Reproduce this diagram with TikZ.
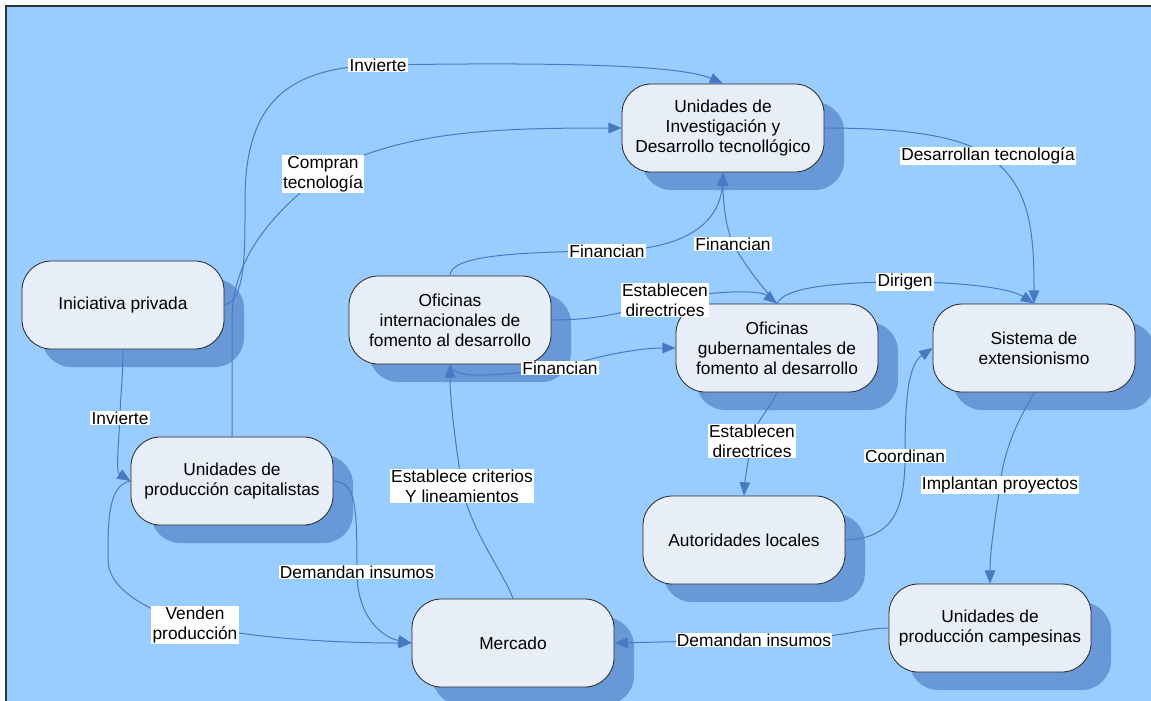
\documentclass[tikz,border=0pt]{standalone}
\usepackage{fontspec}
\setmainfont{Liberation Sans}
\usetikzlibrary{arrows.meta,shadows}
\definecolor{fondo}{RGB}{153,204,255}
\definecolor{caja}{RGB}{232,238,248}
\definecolor{sombra}{RGB}{104,152,214}
\definecolor{flecha}{RGB}{72,122,196}
\begin{document}
\begin{tikzpicture}[x=0.75pt,y=0.75pt,yscale=-1,xscale=1,
  bloque/.style={draw=black!85,line width=0.6pt,fill=caja,rounded corners=22pt,
    minimum width=151.5pt,minimum height=66pt,align=center,inner sep=2pt,
    font=\fontsize{13}{15}\selectfont,
    drop shadow={shadow xshift=15pt,shadow yshift=-13.5pt,fill=sombra,opacity=1}},
  etiq/.style={fill=white,inner xsep=1pt,inner ysep=0.6pt,align=center,
    font=\fontsize{13}{15}\selectfont},
  flujo/.style={draw=flecha,line width=0.75pt,-{Triangle[length=10pt,width=8pt]}}]
\useasboundingbox (0,0) rectangle (1151,700);
%Shape: Frame
\draw [draw=black!80,line width=1.5pt,fill=fondo] (6,6) rectangle (1190,740);

%Shape: Rounded Rect
\node [bloque] (uid) at (723,128) {Unidades de\\Investigación y\\Desarrollo tecnollógico};
\node [bloque] (ini) at (123,305) {Iniciativa privada};
\node [bloque] (cap) at (232,481) {Unidades de\\producción capitalistas};
\node [bloque] (ofi) at (450,320) {Oficinas\\internacionales de\\fomento al desarrollo};
\node [bloque] (ofg) at (777,348) {Oficinas\\gubernamentales de\\fomento al desarrollo};
\node [bloque] (sis) at (1034,348) {Sistema de\\extensionismo};
\node [bloque] (aut) at (744,540) {Autoridades locales};
\node [bloque] (cam) at (990,628) {Unidades de\\producción campesinas};
\node [bloque] (mer) at (513,643) {Mercado};

%Curve Lines
\draw [flujo] (ini.east) .. controls (246,300) and (245,250) .. (245,200) .. controls (245,100) and (290,68) .. (378,65) node [etiq] (l1) {Invierte} .. controls (560,62) and (680,65) .. (uid.north);
%Curve Lines
\draw [flujo] (cap.north) -- (232,320) .. controls (232,260) and (270,215) .. (323,174) node [etiq] (l2) {Compran\\tecnología} .. controls (400,130) and (500,128) .. (uid.west);
%Curve Lines
\draw [flujo] (uid.east) .. controls (900,128) and (960,135) .. (988,156) node [etiq] (l3) {Desarrollan tecnología} .. controls (1030,185) and (1034,230) .. (sis.north);
%Curve Lines
\draw [flujo] (ofi.north) .. controls (450,255) and (520,252) .. (607,251) node [etiq] (l4) {Financian} .. controls (690,250) and (720,220) .. (uid.south);
%Curve Lines
\draw [flujo] (ofg.north) .. controls (760,285) and (745,265) .. (733,244) node [etiq] (l5) {Financian} .. controls (725,225) and (723,200) .. (uid.south);
%Curve Lines
\draw [flujo] (ofi.east) .. controls (590,320) and (620,315) .. (665,300) node [etiq] (l6) {Establecen\\directrices} .. controls (720,290) and (760,290) .. (ofg.north);
%Curve Lines
\draw [flujo] (ofi.south) .. controls (452,378) and (480,378) .. (560,368) node [etiq] (l7) {Financian} .. controls (600,355) and (640,348) .. (ofg.west);
%Curve Lines
\draw [flujo] (ofg.north) .. controls (785,285) and (850,282) .. (905,282) node [etiq] (l8) {Dirigen} .. controls (960,282) and (1010,288) .. (sis.north);
%Curve Lines
\draw [flujo] (ofg.south) .. controls (770,410) and (755,420) .. (752,441) node [etiq] (l9) {Establecen\\directrices} .. controls (748,460) and (745,480) .. (aut.north);
%Curve Lines
\draw [flujo] (aut.east) .. controls (890,538) and (905,515) .. (905,456) node [etiq] (l10) {Coordinan} .. controls (905,400) and (908,365) .. (sis.west);
%Curve Lines
\draw [flujo] (sis.south) .. controls (1025,410) and (1005,440) .. (1000,485) node [etiq] (l11) {Implantan proyectos} .. controls (995,520) and (990,550) .. (cam.north);
%Curve Lines
\draw [flujo] (cam.west) .. controls (860,628) and (840,640) .. (754,640) node [etiq] (l12) {Demandan insumos} -- (mer.east);
%Curve Lines
\draw [flujo] (cap.east) .. controls (355,483) and (357,500) .. (357,572) node [etiq] (l13) {Demandan insumos} .. controls (357,620) and (385,638) .. (mer.west);
%Curve Lines
\draw [flujo] (cap.west) .. controls (108,485) and (108,520) .. (108,560) .. controls (108,590) and (150,612) .. (195,625) node [etiq] (l14) {Venden\\producción} .. controls (260,640) and (350,643) .. (mer.west);
%Curve Lines
\draw [flujo] (ini.south) .. controls (123,380) and (120,400) .. (120,418) node [etiq] (l15) {Invierte} .. controls (118,450) and (116,472) .. (cap.west);
%Curve Lines
\draw [flujo] (mer.north) .. controls (505,575) and (470,530) .. (462,486) node [etiq] (l16) {Establece criterios\\Y lineamientos} .. controls (455,440) and (450,400) .. (ofi.south);

\end{tikzpicture}
\end{document}
